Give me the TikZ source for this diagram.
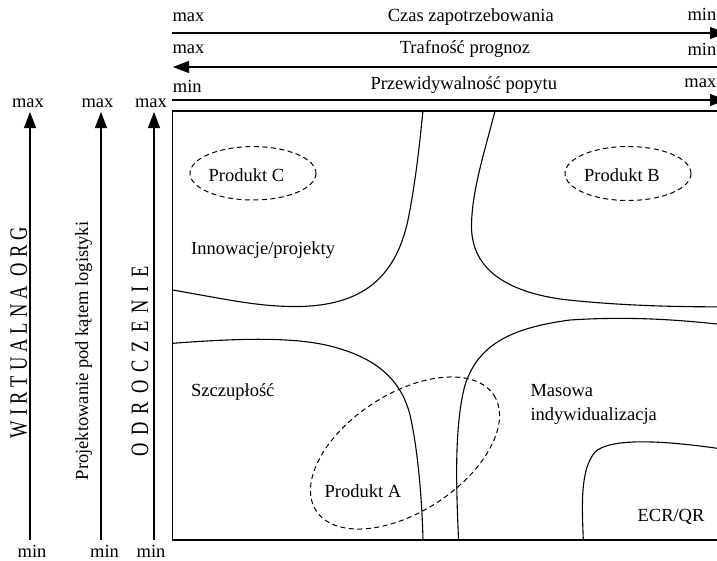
\documentclass[tikz,border=0pt]{standalone}
\usepackage{fontspec}
\setmainfont{Liberation Serif}
\usetikzlibrary{arrows.meta}
\begin{document}
\begin{tikzpicture}[x=1pt,y=-1pt,
  lbl/.style={inner sep=0pt, font=\fontsize{18.5}{22}\selectfont},
  axisarrow/.style={line width=1.1pt, -{Triangle[length=16pt,width=12pt]}},
  bound/.style={line width=1.1pt},
  prodline/.style={line width=1pt, dash pattern=on 5pt off 3.5pt}
]
\useasboundingbox (0,0) rectangle (717,560);
\clip (0,0) rectangle (717,560);

% horizontal axes
\coordinate (h1l) at (172,33);  \coordinate (h1r) at (726,33);
\coordinate (h2l) at (173,67);  \coordinate (h2r) at (726,67);
\coordinate (h3l) at (172,100); \coordinate (h3r) at (726,100);
\draw[axisarrow] (h1l) -- (h1r);
\draw[axisarrow] (h2r) -- (h2l);
\draw[axisarrow] (h3l) -- (h3r);

\node[lbl, anchor=base west] (t1a) at (172.4,21.7) {max};
\node[lbl, anchor=base] (t1b) at (470.8,21.7) {Czas zapotrzebowania};
\node[lbl, anchor=base east] (t1c) at (716.5,20.7) {min};
\node[lbl, anchor=base west] (t2a) at (172.4,53.5) {max};
\node[lbl, anchor=base] (t2b) at (465,53.5) {Trafność prognoz};
\node[lbl, anchor=base east] (t2c) at (716.5,55) {min};
\node[lbl, anchor=base west] (t3a) at (172.7,92) {min};
\node[lbl, anchor=base] (t3b) at (463.8,89) {Przewidywalność popytu};
\node[lbl, anchor=base east] (t3c) at (716.5,87) {max};

% vertical axes
\coordinate (v1b) at (30,540);  \coordinate (v1t) at (30,112);
\coordinate (v2b) at (101,540); \coordinate (v2t) at (101,112);
\coordinate (v3b) at (154,540); \coordinate (v3t) at (154,112);
\draw[axisarrow] (v1b) -- (v1t);
\draw[axisarrow] (v2b) -- (v2t);
\draw[axisarrow] (v3b) -- (v3t);

\node[lbl, anchor=base] (m1) at (28,107) {max};
\node[lbl, anchor=base] (m2) at (97.5,107) {max};
\node[lbl, anchor=base] (m3) at (151,107) {max};
\node[lbl, anchor=base] (n1) at (32,557) {min};
\node[lbl, anchor=base] (n2) at (104.5,557) {min};
\node[lbl, anchor=base] (n3) at (151,557) {min};

\node[lbl, anchor=base, rotate=90] (vw) at (27,332.5)
  {\scalebox{1}[1.35]{W\hspace{5pt}I\hspace{5pt}R\hspace{5pt}T\hspace{5pt}U\hspace{5pt}A\hspace{5pt}L\hspace{5pt}N\hspace{5pt}A\hspace{10pt}O\hspace{5pt}R\hspace{5pt}G}};
\node[lbl, anchor=base, rotate=90] (vp) at (88,351) {Projektowanie pod kątem logistyki};
\node[lbl, anchor=base, rotate=90] (vo) at (148,361.7)
  {\scalebox{1}[1.35]{O\hspace{8pt}D\hspace{8pt}R\hspace{8pt}O\hspace{8pt}C\hspace{8pt}Z\hspace{8pt}E\hspace{8pt}N\hspace{8pt}I\hspace{8pt}E}};

% main box
\draw[line width=1.3pt] (172.8,111) rectangle (735,540);

% region boundaries
\draw[bound] (172.8,290) .. controls (230,300) and (260,307) .. (300,306.5)
  .. controls (360,305) and (395,280) .. (408,220)
  .. controls (416,180) and (420,140) .. (422.9,111);
\draw[bound] (495,111) .. controls (485,150) and (472,190) .. (471.5,225)
  .. controls (471,265) and (500,290) .. (560,299)
  .. controls (610,305) and (670,307) .. (720,306.8);
\draw[bound] (172.8,343.3) .. controls (230,339) and (290,336) .. (330,346)
  .. controls (370,356) and (400,375) .. (410,415)
  .. controls (418,450) and (422,500) .. (423,540);
\draw[bound] (458.5,540) .. controls (457,500) and (453,430) .. (465,385)
  .. controls (478,345) and (510,328) .. (570,320)
  .. controls (630,316) and (680,320) .. (720,324.3);
\draw[bound] (583.3,540) .. controls (582,505) and (580,470) .. (595,452)
  .. controls (610,438) and (660,440) .. (720,448.7);

% product ellipses
\draw[prodline] (253,173.3) ellipse [x radius=63, y radius=26.7];
\draw[prodline] (628,173.5) ellipse [x radius=63, y radius=27];
\draw[prodline, rotate around={33:(405,453)}] (405,453) ellipse [x radius=106, y radius=59];

% region labels
\node[lbl, anchor=base west] (pc) at (208.4,181.7) {Produkt C};
\node[lbl, anchor=base west] (pb) at (584,181.7) {Produkt B};
\node[lbl, anchor=base west] (pa) at (324.5,497.5) {Produkt A};
\node[lbl, anchor=base west] (inn) at (191,254) {Innowacje/projekty};
\node[lbl, anchor=base west] (szc) at (191,396) {Szczupłość};
\node[lbl, anchor=base west] (mas1) at (530.3,396) {Masowa};
\node[lbl, anchor=base west] (mas2) at (530.3,420) {indywidualizacja};
\node[lbl, anchor=base west] (ecr) at (637.4,521.7) {ECR/QR};
\end{tikzpicture}
\end{document}
